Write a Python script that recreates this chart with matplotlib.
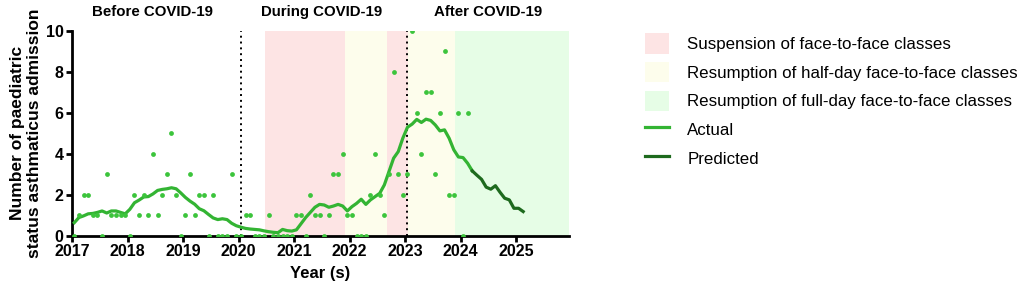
import matplotlib
matplotlib.use("Agg")
import matplotlib.pyplot as plt
import numpy as np
from matplotlib.patches import Patch
from matplotlib.lines import Line2D

plt.rcParams['font.family'] = ['Liberation Sans', 'DejaVu Sans']

# monthly admissions, Jan 2017 .. Feb 2024
monthly_counts = [0, 1, 2, 2, 1, 1, 0, 3, 1, 1, 1, 1,
                  0, 2, 1, 2, 1, 4, 1, 2, 3, 5, 2, 0,
                  1, 3, 1, 2, 2, 0, 2, 0, 0, 0, 3, 0,
                  0, 1, 1, 0, 0, 0, 1, 0, 0, 0, 0, 0,
                  1, 1, 0, 2, 1, 1, 0, 1, 3, 3, 4, 1,
                  1, 0, 0, 0, 2, 4, 2, 1, 3, 8, 3, 2,
                  3, 10, 6, 4, 7, 7, 3, 6, 9, 2, 2, 6,
                  0, 6]

# smoothed trend (actual), Jan 2017 .. Mar 2024
actual_trend = [0.65, 0.9, 0.98, 1.08, 1.1, 1.15, 1.22, 1.12, 1.22, 1.22, 1.15, 1.08,
                1.3, 1.62, 1.75, 1.9, 1.92, 2.05, 2.22, 2.27, 2.3, 2.35, 2.3, 2.1,
                1.88, 1.7, 1.55, 1.33, 1.23, 1.05, 0.88, 0.8, 0.84, 0.8, 0.62, 0.5,
                0.43, 0.37, 0.34, 0.32, 0.3, 0.25, 0.21, 0.18, 0.16, 0.32, 0.26, 0.24,
                0.3, 0.6, 0.9, 1.15, 1.4, 1.54, 1.51, 1.4, 1.46, 1.54, 1.46, 1.22,
                1.43, 1.59, 1.79, 1.54, 1.76, 1.92, 2.08, 2.49, 3.14, 3.79, 4.11, 4.77,
                5.3, 5.45, 5.68, 5.53, 5.69, 5.63, 5.41, 5.12, 5.17, 4.76, 4.2, 3.85,
                3.82, 3.54, 3.17]

# predicted trend, Mar 2024 .. Feb 2025
predicted_trend = [3.17, 2.96, 2.76, 2.38, 2.28, 2.45, 2.13, 1.84, 1.76, 1.35, 1.35, 1.19]
predicted_start = 86

periods = [(2020.48, 2021.91, '#fde4e4'),
           (2021.91, 2022.67, '#fdfdec'),
           (2022.67, 2023.05, '#fde4e4'),
           (2023.05, 2023.89, '#fdfdec'),
           (2023.89, 2025.95, '#e6fde6')]
period_labels = ['Suspension of face-to-face classes',
                 'Resumption of half-day face-to-face classes',
                 'Resumption of full-day face-to-face classes']
period_colors = ['#fde4e4', '#fdfdec', '#e6fde6']

phase_names = ['Before COVID-19', 'During COVID-19', 'After COVID-19']
phase_x = [2018.45, 2021.5, 2024.5]
cutoffs = [2020.04, 2023.04]

pt_color = '#3cc43c'
actual_color = '#33b433'
pred_color = '#1e6a1e'


def month_pos(k):
    return 2017 + (np.asarray(k) + 0.5) / 12


fig = plt.figure(figsize=(10.22, 2.91), dpi=100)
ax = fig.add_axes([72 / 1022, 1 - 236 / 291, (569 - 72) / 1022, (236 - 30.7) / 291])

for x0, x1, c in periods:
    ax.axvspan(x0, x1, color=c, lw=0, zorder=0)
for c in cutoffs:
    ax.axvline(c, color='black', ls=(0, (1, 2)), lw=1.4, zorder=2)

k_pts = np.arange(len(monthly_counts))
ax.scatter(month_pos(k_pts), monthly_counts, s=12, color=pt_color, zorder=4, lw=0)

k_act = np.arange(len(actual_trend))
ax.plot(month_pos(k_act), actual_trend, color=actual_color, lw=2.3, zorder=3)
k_pred = np.arange(predicted_start, predicted_start + len(predicted_trend))
ax.plot(month_pos(k_pred), predicted_trend, color=pred_color, lw=2.3, zorder=3)

ax.set_xlim(2017, 2025.95)
ax.set_ylim(0, 10)
ax.set_xticks(range(2017, 2026))
ax.set_yticks(range(0, 11, 2))
for s in ['top', 'right']:
    ax.spines[s].set_visible(False)
for s in ['left', 'bottom']:
    ax.spines[s].set_linewidth(2)
ax.tick_params(width=2, length=4, labelsize=11.5, pad=2)
for lbl in ax.get_xticklabels() + ax.get_yticklabels():
    lbl.set_fontweight('bold')

ax.set_xlabel('Year (s)', fontsize=12, fontweight='bold', labelpad=5)
ax.set_ylabel('Number of paediatric\nstatus asthmaticus admission', fontsize=12.5,
              fontweight='bold', labelpad=3, linespacing=1.15)

for name, x in zip(phase_names, phase_x):
    ax.text(x, 1.055, name, transform=ax.get_xaxis_transform(), ha='center', va='bottom',
            fontsize=10.8, fontweight='bold')

handles = [Patch(facecolor=c, edgecolor='none') for c in period_colors]
handles += [Line2D([], [], color=actual_color, lw=2.3), Line2D([], [], color=pred_color, lw=2.3)]
labels = period_labels + ['Actual', 'Predicted']
fig.legend(handles, labels, loc='upper left', bbox_to_anchor=(0.631, 0.885), frameon=False,
           fontsize=12.2, handlelength=1.45, handleheight=1.45, handletextpad=1.05,
           labelspacing=0.5, borderaxespad=0, borderpad=0)

fig.savefig('out.png', dpi=100)
